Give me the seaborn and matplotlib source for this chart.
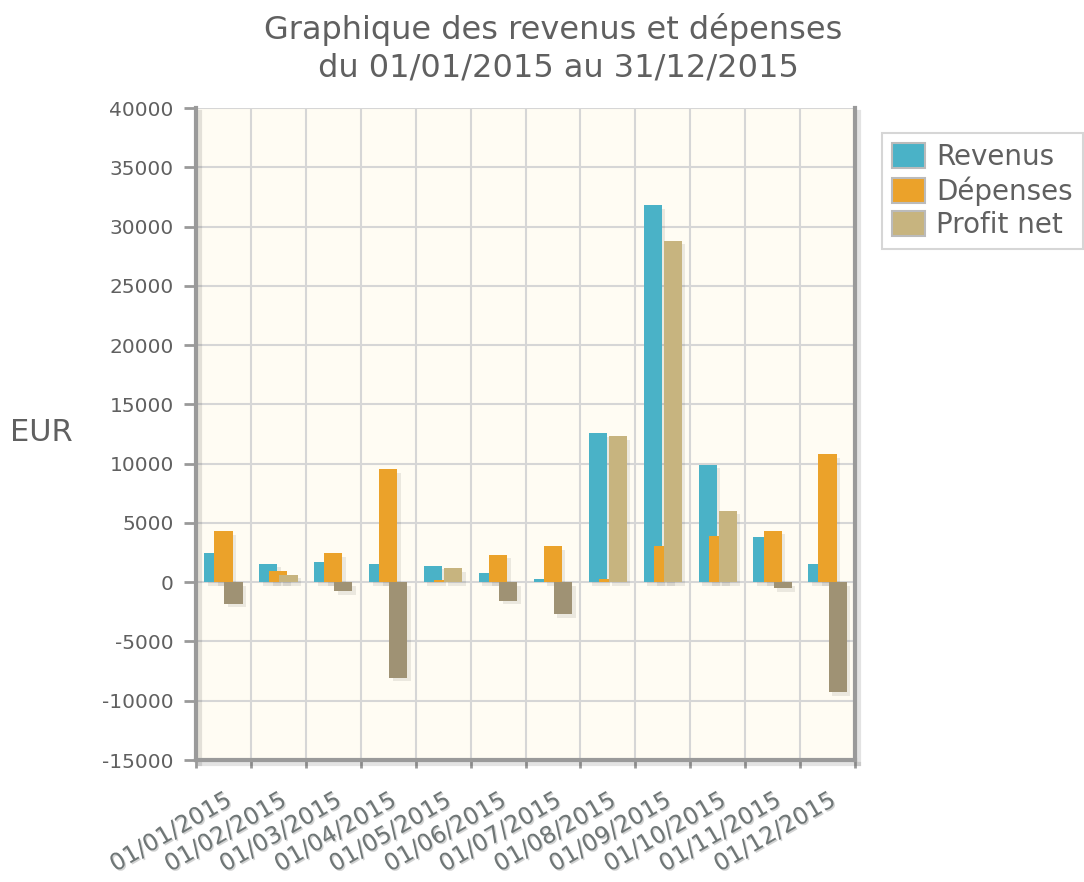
import numpy as np
import pandas as pd
import seaborn as sns
import matplotlib as mpl
import matplotlib.pyplot as plt
import matplotlib.patheffects as pe

months = ['01/01/2015', '01/02/2015', '01/03/2015', '01/04/2015', '01/05/2015', '01/06/2015',
          '01/07/2015', '01/08/2015', '01/09/2015', '01/10/2015', '01/11/2015', '01/12/2015']
revenus = [2480, 1550, 1690, 1520, 1380, 735, 300, 12560, 31800, 9900, 3800, 1510]
depenses = [4315, 930, 2450, 9530, 200, 2310, 3020, 240, 3020, 3865, 4320, 10810]
profit = [-1835, 620, -760, -8050, 1180, -1575, -2720, 12320, 28780, 6035, -520, -9300]
series = ['Revenus', 'Dépenses', 'Profit net']

colors = {'Revenus': '#4ab2c7', 'Dépenses': '#eba22a', 'Profit net': '#c7b47f'}
neg_profit = '#9f9274'
text_grey = '#606060'

df = pd.DataFrame({
    'mois': months * 3,
    'serie': [s for s in series for _ in months],
    'valeur': revenus + depenses + profit,
})

sns.set_theme(style='white')
plt.rcParams['font.family'] = ['DejaVu Sans']
plt.rcParams['axes.unicode_minus'] = False

fig = plt.figure(figsize=(10.84, 8.82), dpi=100)
ax = fig.add_axes([196 / 1084, 1 - 760 / 882, (855 - 196) / 1084, (760 - 108) / 882])
ax.set_facecolor('#fffcf3')

sns.barplot(data=df, x='mois', y='valeur', hue='serie', palette=colors,
            width=0.55, saturation=1, ax=ax, legend=False)

# widen bars so that they overlap like the original
shadow = [pe.SimplePatchShadow(offset=(2.5, -2.5), shadow_rgbFace='#000000', alpha=0.08), pe.Normal()]
for i, bar in enumerate(ax.patches):
    c = bar.get_x() + bar.get_width() / 2
    bar.set_width(0.33)
    bar.set_x(c - 0.165)
    bar.set_edgecolor('none')
    if abs(bar.get_height()) > 300:
        bar.set_path_effects(shadow)
    if i >= 24 and bar.get_height() < 0:
        bar.set_facecolor(neg_profit)
    bar.set_zorder(3 + i // 12)

ax.set_xlim(-0.5, 11.5)
ax.set_ylim(-15000, 40000)
ax.set_yticks(np.arange(-15000, 40001, 5000))
ax.set_xticks(np.arange(12))
ax.set_xticks(np.arange(-0.5, 12, 1), minor=True)
ax.set_xticklabels(months, rotation=30, ha='right', rotation_mode='anchor',
                   fontsize=17, color='#6f7676')
for lab in ax.get_xticklabels():
    lab.set_path_effects([pe.withSimplePatchShadow(offset=(1, -1), alpha=0.2)])
ax.tick_params(axis='x', which='major', length=0, pad=20)
ax.tick_params(axis='x', which='minor', length=6, width=2, color='#9a9a9a', direction='out', bottom=True)
ax.tick_params(axis='y', length=9, width=2, color='#9a9a9a', direction='out', left=True,
               labelsize=14.5, labelcolor=text_grey, pad=7)

ax.grid(False)
ax.yaxis.grid(True, color='#d6d6d6', lw=1.5, zorder=0)
ax.xaxis.grid(True, which='minor', color='#d6d6d6', lw=1.5, zorder=0)
ax.set_axisbelow(True)

for side in ['left', 'bottom', 'right']:
    ax.spines[side].set_color('#9a9a9a')
    ax.spines[side].set_linewidth(3)
    ax.spines[side].set_path_effects([pe.SimpleLineShadow(offset=(3, -3), alpha=0.12), pe.Normal()])
ax.spines['top'].set_visible(False)

ax.set_xlabel('')
ax.set_ylabel('EUR', rotation=0, fontsize=22, color=text_grey, va='center', ha='center')
ax.yaxis.set_label_coords(-0.234, 0.502)

fig.text(553 / 1084, 1 - 48 / 882, 'Graphique des revenus et dépenses\n du 01/01/2015 au 31/12/2015',
         ha='center', va='center', fontsize=23, color=text_grey, linespacing=1.25)

handles = [mpl.patches.Patch(facecolor=colors[s], edgecolor='#bbbbbb', lw=1.5, label=s) for s in series]
leg = fig.legend(handles=handles, loc='upper left', bbox_to_anchor=(882 / 1084, 1 - 133 / 882),
                 fontsize=20, frameon=True, fancybox=False, handlelength=1.2, handleheight=1.0,
                 handletextpad=0.4, labelspacing=0.2, borderpad=0.35, borderaxespad=0,
                 labelcolor=text_grey)
leg.get_frame().set_edgecolor('#cccccc')
leg.get_frame().set_linewidth(1.5)

fig.savefig('out.png', dpi=100)
